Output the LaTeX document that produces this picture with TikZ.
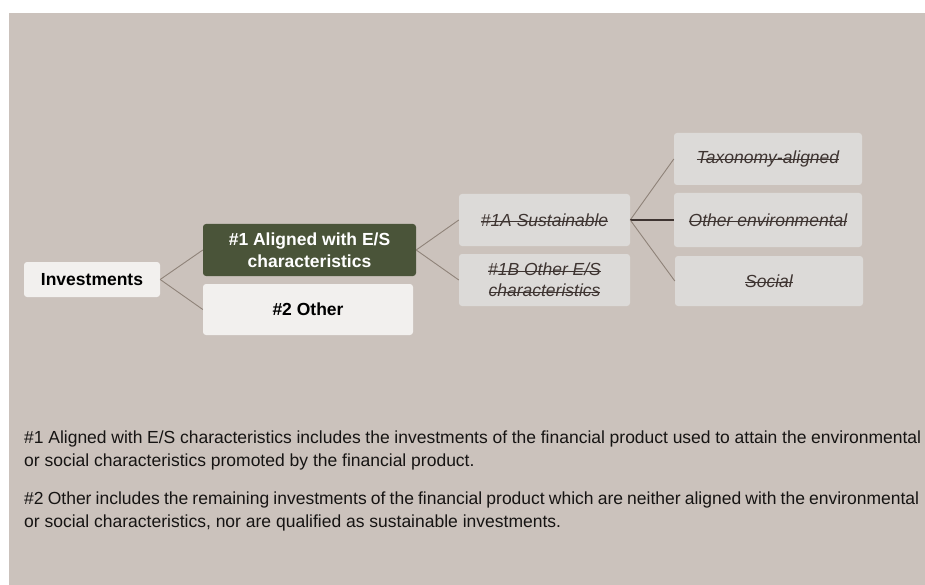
\documentclass[tikz,border=0pt]{standalone}
\usepackage{fontspec}
\setmainfont{Liberation Sans}
\newcommand{\strk}[1]{\sbox0{#1}\makebox[0pt][l]{\usebox0}\rule[0.22em]{\wd0}{1.1pt}}
\definecolor{bgc}{HTML}{CBC2BC}
\definecolor{lightbox}{HTML}{F2F0EE}
\definecolor{greybox}{HTML}{DCDAD8}
\definecolor{greenbox}{HTML}{4A5439}
\definecolor{linec}{HTML}{8F8379}
\definecolor{darktxt}{HTML}{3E3431}
\definecolor{bodytxt}{HTML}{161413}
\begin{document}
\begin{tikzpicture}[x=1pt,y=-1pt,
  box/.style={rectangle,rounded corners=3pt,inner sep=0pt,align=center},
  lightb/.style={box,fill=lightbox,text=black,font=\fontsize{17.5}{22}\selectfont\bfseries},
  greenb/.style={box,fill=greenbox,text=white,font=\fontsize{17.5}{22}\selectfont\bfseries},
  greyb/.style={box,fill=greybox,text=darktxt,font=\fontsize{17.5}{21}\selectfont\itshape},
  conn/.style={draw=linec,line width=0.9pt},
  thickconn/.style={draw=darktxt,line width=2.2pt},
  bodyt/.style={anchor=base west,inner sep=0pt,text=bodytxt,font=\fontsize{17.5}{23}\selectfont}
]
\useasboundingbox (0,0) rectangle (925,585);
\fill[white] (0,0) rectangle (925,585);
\fill[bgc] (9,13) rectangle (925,585);

\node[lightb,minimum width=136pt,minimum height=35pt] (inv) at (92,279.5) {Investments};
\node[greenb,minimum width=213pt,minimum height=52pt] (a1) at (309.5,250) {\#1 Aligned with E/S\\characteristics};
\node[lightb,minimum width=210pt,minimum height=51pt] (a2) at (308,309.5) {\#2 Other};
\node[greyb,minimum width=171pt,minimum height=52pt] (s1a) at (544.5,220) {\strk{\#1A Sustainable}};
\node[greyb,minimum width=171pt,minimum height=52pt] (s1b) at (544.5,280) {\strk{\#1B Other E/S}\\\strk{characteristics}};
\node[greyb,minimum width=188pt,minimum height=52pt] (tax) at (768,159) {\strk{Taxonomy-aligned}};
\node[greyb,minimum width=188pt,minimum height=54pt] (env) at (768,220) {\strk{Other environmental}};
\node[greyb,minimum width=188pt,minimum height=50pt] (soc) at (769,281) {\strk{Social}};

\draw[conn] (inv.east) -- (a1.west);
\draw[conn] (inv.east) -- (a2.west);
\draw[conn] (a1.east) -- (s1a.west);
\draw[conn] (a1.east) -- (s1b.west);
\draw[conn] (s1a.east) -- (tax.west);
\draw[thickconn] (s1a.east) -- (env.west);
\draw[conn] (s1a.east) -- (soc.west);

\node[bodyt] (p1a) at (24,443) {\makebox[897pt][s]{\#1 Aligned with E/S characteristics includes the investments of the financial product used to attain the environmental}};
\node[bodyt] (p1b) at (24,466) {or social characteristics promoted by the financial product.};
\node[bodyt] (p2a) at (24,504) {\makebox[895pt][s]{\#2 Other includes the remaining investments of the financial product which are neither aligned with the environmental}};
\node[bodyt] (p2b) at (24,527) {or social characteristics, nor are qualified as sustainable investments.};
\end{tikzpicture}
\end{document}
